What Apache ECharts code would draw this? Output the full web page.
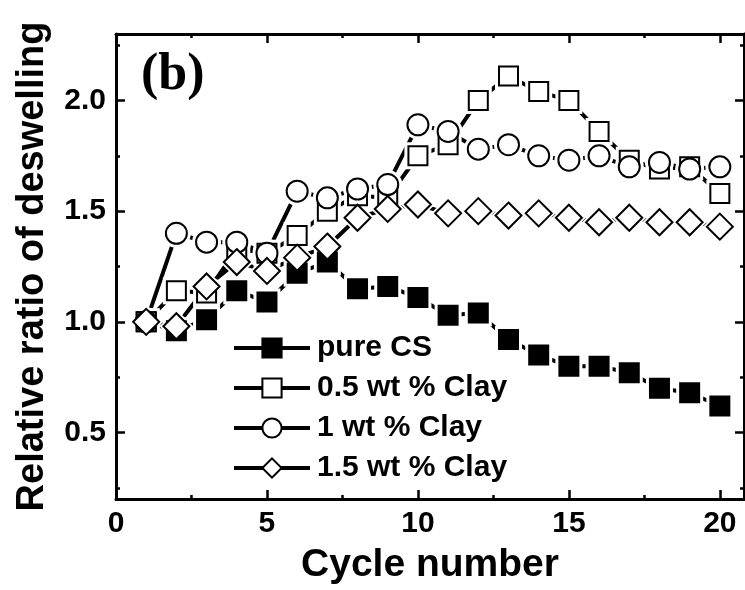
<!DOCTYPE html>
<html>
<head>
<meta charset="utf-8">
<script src="https://cdn.jsdelivr.net/npm/echarts@6/dist/echarts.min.js"></script>
<style>
  html, body { margin: 0; padding: 0; background: #fff; }
  #chart { width: 745px; height: 590px; }
</style>
</head>
<body>
<div id="chart"></div>
<script>
// Cycle numbers on the x axis
const cycles = [1, 2, 3, 4, 5, 6, 7, 8, 9, 10, 11, 12, 13, 14, 15, 16, 17, 18, 19, 20];

// Relative ratio of deswelling per cycle
const pureCS   = [1.00, 0.96, 1.01, 1.14, 1.09, 1.22, 1.27, 1.15, 1.16, 1.11, 1.03, 1.04, 0.92, 0.85, 0.80, 0.80, 0.77, 0.70, 0.68, 0.62];
const clay05   = [1.00, 1.14, 1.13, 1.33, 1.31, 1.39, 1.50, 1.57, 1.56, 1.75, 1.80, 2.00, 2.11, 2.04, 2.00, 1.86, 1.73, 1.69, 1.70, 1.58];
const clay10   = [1.00, 1.40, 1.36, 1.36, 1.31, 1.59, 1.56, 1.60, 1.62, 1.89, 1.86, 1.78, 1.80, 1.75, 1.73, 1.75, 1.70, 1.72, 1.69, 1.70];
const clay15   = [1.00, 0.98, 1.16, 1.27, 1.23, 1.29, 1.34, 1.47, 1.51, 1.53, 1.49, 1.50, 1.48, 1.49, 1.47, 1.45, 1.47, 1.45, 1.45, 1.43];

const seriesNames = ['pure CS', '0.5 wt % Clay', '1 wt % Clay', '1.5 wt % Clay'];

// Tick positions
const xMajor = [0, 5, 10, 15, 20];
const xMinor = [2.5, 7.5, 12.5, 17.5];
const yMajor = [0.5, 1.0, 1.5, 2.0];
const yMinor = [0.25, 0.75, 1.25, 1.75, 2.25];

const FONT = '"Liberation Sans", Arial, sans-serif';
const INK = '#000';

const styles = [
  { symbol: 'rect',    size: 19, fill: INK },
  { symbol: 'rect',    size: 19, fill: '#fff' },
  { symbol: 'circle',  size: 21, fill: '#fff' },
  { symbol: 'diamond', size: 26, fill: '#fff' }
];
const values = [pureCS, clay05, clay10, clay15];

function pairs(vals) {
  return cycles.map((c, i) => [c, vals[i]]);
}

const series = [];
values.forEach((vals, k) => {
  const st = styles[k];
  // connecting line, drawn beneath everything
  series.push({
    name: seriesNames[k] + ' path',
    type: 'line',
    data: pairs(vals),
    symbol: 'none',
    lineStyle: { color: INK, width: 4 },
    z: 1,
    silent: true,
    animation: false
  });
  // white halo that opens a gap between line and marker
  series.push({
    name: seriesNames[k] + ' halo',
    type: 'scatter',
    data: pairs(vals),
    symbol: st.symbol,
    symbolSize: st.size + 8,
    itemStyle: { color: '#fff', opacity: 1 },
    z: 2,
    silent: true,
    animation: false
  });
  // markers (also the legend entry)
  series.push({
    name: seriesNames[k],
    type: 'line',
    data: pairs(vals),
    symbol: st.symbol,
    symbolSize: st.size,
    showAllSymbol: true,
    lineStyle: { color: INK, width: 4, opacity: 0 },
    itemStyle: { color: st.fill, borderColor: INK, borderWidth: 2, opacity: 1 },
    z: 3,
    animation: false
  });
});

function xAxisDef(position, ticks, len, withLine, withLabels) {
  return {
    type: 'value', position: position, min: 0, max: 20.8,
    axisLine: { show: withLine, onZero: false, lineStyle: { color: INK, width: 3 } },
    axisTick: { show: true, inside: true, length: len, customValues: ticks, lineStyle: { color: INK, width: 2.5 } },
    axisLabel: withLabels ? {
      show: true, customValues: ticks, color: INK, fontFamily: FONT, fontWeight: 'bold', fontSize: 30, margin: 10
    } : { show: false },
    splitLine: { show: false }
  };
}

function yAxisDef(position, ticks, len, withLine, withLabels) {
  return {
    type: 'value', position: position, min: 0.2, max: 2.3,
    axisLine: { show: withLine, onZero: false, lineStyle: { color: INK, width: 3 } },
    axisTick: { show: true, inside: true, length: len, customValues: ticks, lineStyle: { color: INK, width: 2.5 } },
    axisLabel: withLabels ? {
      show: true, customValues: ticks, color: INK, fontFamily: FONT, fontWeight: 'bold', fontSize: 30, margin: 10,
      formatter: v => v.toFixed(1)
    } : { show: false },
    splitLine: { show: false }
  };
}

const xMain = xAxisDef('bottom', xMajor, 9, true, true);
xMain.name = 'Cycle number';
xMain.nameLocation = 'middle';
xMain.nameGap = 47;
xMain.nameTextStyle = { color: INK, fontFamily: FONT, fontWeight: 'bold', fontSize: 39 };

const yMain = yAxisDef('left', yMajor, 9, true, true);
yMain.name = 'Relative ratio of deswelling';
yMain.nameLocation = 'middle';
yMain.nameGap = 64;
yMain.nameTextStyle = { color: INK, fontFamily: FONT, fontWeight: 'bold', fontSize: 38 };

const option = {
  backgroundColor: '#fff',
  animation: false,
  grid: { left: 116, right: 1, top: 34, bottom: 83, containLabel: false },
  xAxis: [
    xMain,
    xAxisDef('bottom', xMinor, 4, false, false),
    xAxisDef('top', xMajor, 9, true, false),
    xAxisDef('top', xMinor, 4, false, false)
  ],
  yAxis: [
    yMain,
    yAxisDef('left', yMinor, 4, false, false),
    yAxisDef('right', yMajor, 9, true, false),
    yAxisDef('right', yMinor, 4, false, false)
  ],
  legend: {
    data: seriesNames,
    orient: 'vertical',
    left: 232,
    top: 333,
    padding: 0,
    itemWidth: 76,
    itemHeight: 24,
    itemGap: 10,
    lineStyle: { color: INK, width: 4, opacity: 1 },
    textStyle: { color: INK, fontFamily: FONT, fontWeight: 'bold', fontSize: 30, lineHeight: 30, padding: [0, 0, 0, 2] },
    selectedMode: false
  },
  graphic: [{
    type: 'text',
    left: 141,
    top: 50,
    style: { text: '(b)', font: 'bold 52px "Liberation Serif", "Times New Roman", serif', fill: INK }
  }],
  series: series
};

const chart = echarts.init(document.getElementById('chart'), null, { renderer: 'canvas' });
chart.setOption(option);
</script>
</body>
</html>
